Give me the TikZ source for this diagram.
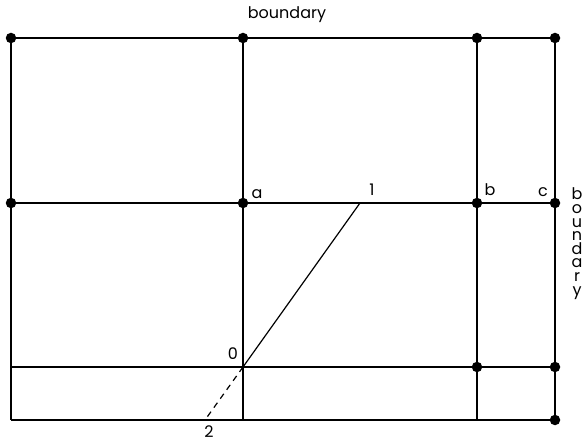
\documentclass[tikz,border=0pt]{standalone}
\usepackage{fontspec}
\setmainfont{Poppins}
\begin{document}
\begin{tikzpicture}[x=1pt,y=-1pt,line width=1.3pt,
  dot/.style={circle,fill=black,inner sep=0pt,minimum size=10.5pt},
  pt/.style={inner sep=0pt,minimum size=0pt},
  lbl/.style={inner sep=0pt,font=\fontsize{16}{16}\selectfont}]
\useasboundingbox (0,0) rectangle (586,443);
% grid points
\foreach \n/\x in {A/11,B/243,C/477,D/555}{
  \foreach \m/\y in {1/38,2/203,3/367,4/420}{
    \coordinate (\n\m) at (\x,\y);
  }
}
\node[pt] (one) at (360,203) {};
\node[pt] (two) at (205,420) {};
% lines
\draw (A1) -- (D1);
\draw (A2) -- (D2);
\draw (A3) -- (D3);
\draw (A4) -- (D4);
\draw (A1) -- (A4);
\draw (B1) -- (B4);
\draw (C1) -- (C4);
\draw (D1) -- (D4);
\draw[line width=1.2pt] (B3) -- (one.center);
\draw[line width=1.2pt,dash pattern=on 6pt off 5pt] (B3) -- (two.center);
% dots
\foreach \p in {A1,B1,C1,D1,A2,B2,C2,D2,C3,D3,D4}{
  \node[dot] (d\p) at (\p) {};
}
% labels
\node[lbl] (tb) at (287,15) {boundary};
\node[lbl] (la) at (257,194) {a};
\node[lbl] (l1) at (372,190) {1};
\node[lbl] (lb) at (490,190) {b};
\node[lbl] (lc) at (543,192) {c};
\node[lbl] (l0) at (233,354) {0};
\node[lbl] (l2) at (209,432) {2};
\foreach \c [count=\i from 0] in {b,o,u,n,d,a,r,y}{
  \node[lbl,anchor=base] (rb\i) at (577,200+13.6*\i) {\c};
}
\end{tikzpicture}
\end{document}
